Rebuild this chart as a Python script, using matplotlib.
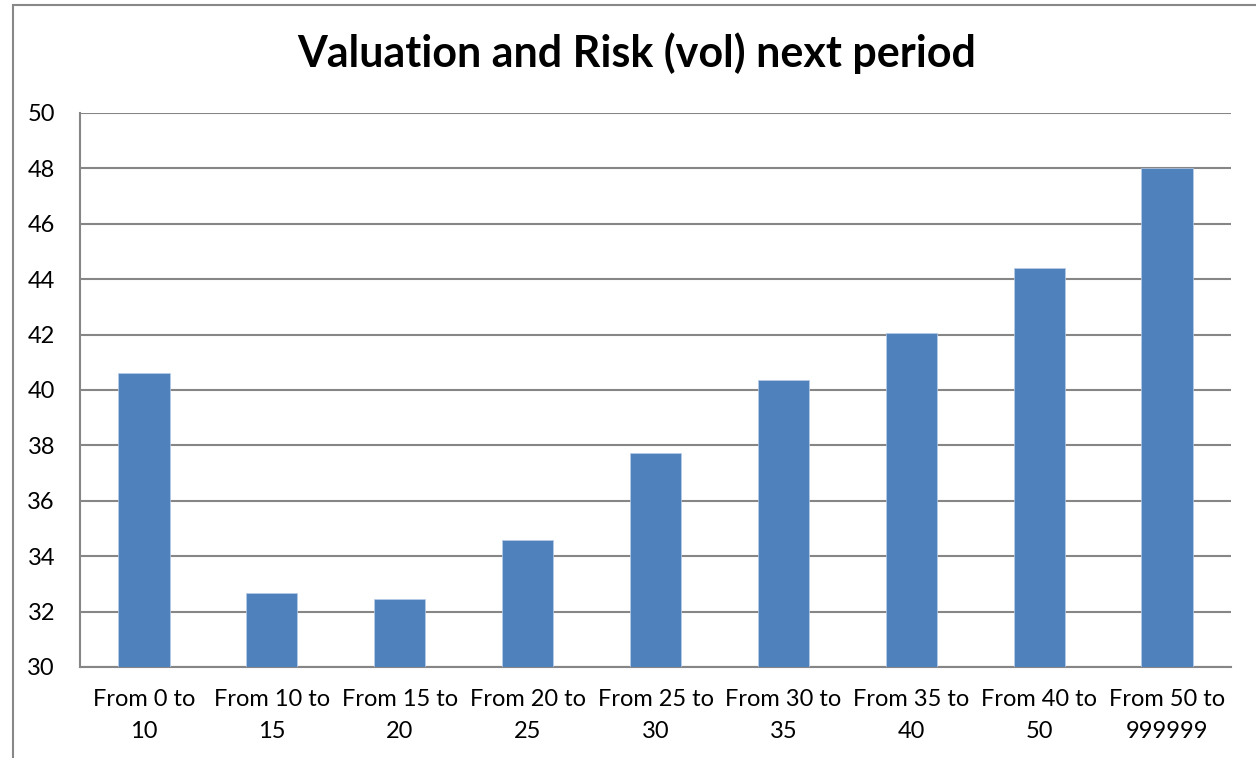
import numpy as np
import matplotlib
matplotlib.use("Agg")
import matplotlib.pyplot as plt
from matplotlib.patches import Rectangle

categories = ["From 0 to\n10", "From 10 to\n15", "From 15 to\n20", "From 20 to\n25",
              "From 25 to\n30", "From 30 to\n35", "From 35 to\n40", "From 40 to\n50",
              "From 50 to\n999999"]
values = [40.62, 32.68, 32.45, 34.58, 37.71, 40.36, 42.06, 44.39, 48.01]
y_ticks = [30, 32, 34, 36, 38, 40, 42, 44, 46, 48, 50]

plt.rcParams['font.family'] = ['Lato', 'DejaVu Sans']

W, H = 1256, 758
fig = plt.figure(figsize=(W / 100, H / 100), dpi=100)

# chart area frame (only left and top edges are inside the picture)
fig.patches.append(Rectangle((13 / W, -0.1), 1.2, (H - 5) / H + 0.1,
                             transform=fig.transFigure, fill=False,
                             edgecolor='#888888', linewidth=1.5))

ax = fig.add_axes([80 / W, 1 - 667 / H, (1231 - 80) / W, (667 - 113) / H])

x = np.arange(len(categories))
ax.bar(x, values, width=0.4, color='#4F81BD', edgecolor='#B9CDE5',
       linewidth=0.5, zorder=3)

ax.set_xlim(-0.5, len(categories) - 0.5)
ax.set_ylim(30, 50)
ax.set_yticks(y_ticks)
ax.set_xticks(x)
ax.set_xticklabels(categories, fontsize=17, linespacing=1.65)
ax.tick_params(axis='y', labelsize=17, length=0, pad=18)
ax.tick_params(axis='x', length=0, pad=16)

ax.yaxis.grid(True, color='#868686', linewidth=1.5, zorder=0)
for s in ['top', 'right']:
    ax.spines[s].set_visible(False)
for s in ['left', 'bottom']:
    ax.spines[s].set_color('#868686')
    ax.spines[s].set_linewidth(1.5)

fig.text(637 / W, 1 - 53 / H, "Valuation and Risk (vol) next period",
         ha='center', va='center', fontsize=31, fontweight='bold')

fig.savefig("out.png", dpi=100)
